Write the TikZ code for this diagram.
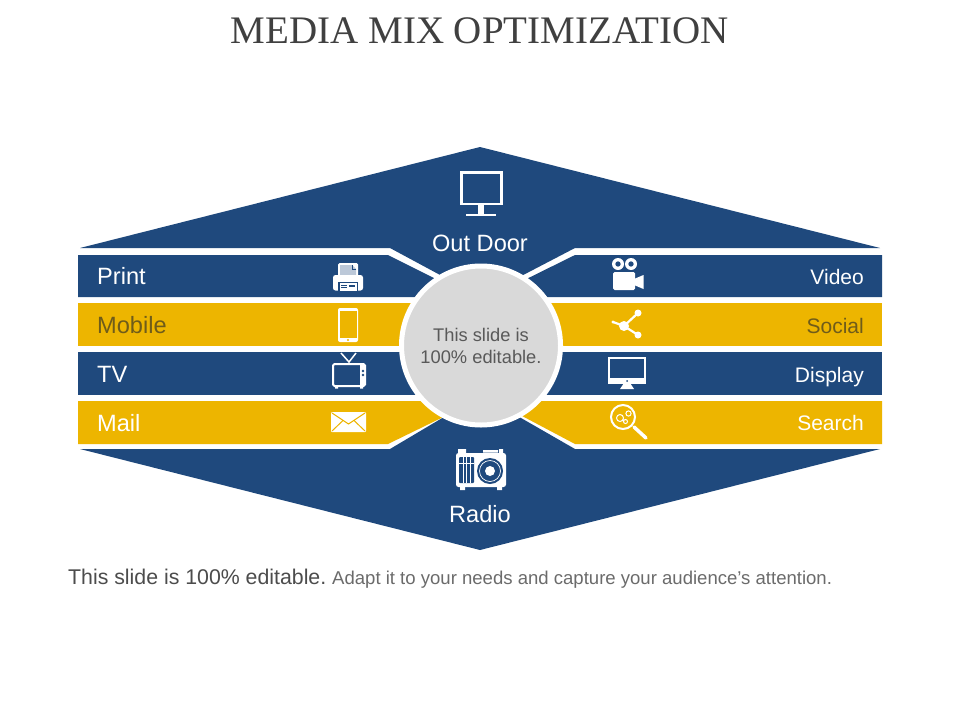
\documentclass[tikz,border=0pt]{standalone}
\usepackage{fontspec}
\setmainfont{Liberation Sans}
\newfontfamily\titlefont{Liberation Serif}
\definecolor{navy}{HTML}{1F497D}
\definecolor{gold}{HTML}{EDB500}
\definecolor{disc}{HTML}{D9D9D9}
\definecolor{darktxt}{HTML}{6F5C1A}
\tikzset{
	big/.style={inner sep=0pt, text=white, font=\fontsize{23.6}{28}\selectfont},
	small/.style={inner sep=0pt, text=white, font=\fontsize{21}{25}\selectfont},
	ink/.style={fill=white, draw=none},
	line/.style={draw=white, line width=1.6pt}
}
\begin{document}
\begin{tikzpicture}[x=1pt, y=-1pt]
	\useasboundingbox[fill=white] (0,0) rectangle (960,720);
	\node[inner sep=0pt, text=black!75, font=\titlefont\fontsize{39}{44}\selectfont] (title) at (480,31) {MEDIA MIX OPTIMIZATION};
	% hexagon halves
	\fill[navy] (80,248) -- (480,147) -- (880,248) -- (575,248) -- (481,297) -- (390,248) -- cycle;
	\fill[navy] (80,449) -- (480,550) -- (880,449) -- (575,449) -- (481,395) -- (390,449) -- cycle;
	% bands
	\fill[navy] (78,255) -- (388,255) -- (470,296) -- (470,297) -- (78,297) -- cycle;
	\fill[gold] (78,303) rectangle (470,346);
	\fill[navy] (78,352) rectangle (470,395);
	\fill[gold] (78,401) -- (470,401) -- (470,404) -- (388,444) -- (78,444) -- cycle;
	\fill[navy] (882,255) -- (575,255) -- (490,297) -- (882,297) -- cycle;
	\fill[gold] (490,303) rectangle (882,346);
	\fill[navy] (490,352) rectangle (882,395);
	\fill[gold] (882,401) -- (490,401) -- (490,399) -- (575,444) -- (882,444) -- cycle;
	% middle disc
	\fill[disc, draw=white, line width=5pt] (481,345.5) circle (79.5);
	\node[inner sep=0pt, align=center, text=black!65, font=\fontsize{18.3}{22.5}\selectfont] (hub) at (481,346) {This slide is\\100\% editable.};
	% labels
	\node[big] (outdoor) at (480,243) {Out Door};
	\node[big] (radio) at (480,514) {Radio};
	\node[big, anchor=base west] (print) at (97,284) {Print};
	\node[big, anchor=base west, text=darktxt] (mobile) at (97,333) {Mobile};
	\node[big, anchor=base west] (tv) at (97,382) {TV};
	\node[big, anchor=base west] (mail) at (97,431) {Mail};
	\node[small, anchor=base east] (video) at (864,284) {Video};
	\node[small, anchor=base east, text=darktxt] (social) at (864,333) {Social};
	\node[small, anchor=base east] (display) at (864,382) {Display};
	\node[small, anchor=base east] (search) at (864,430) {Search};
	\node[inner sep=0pt, anchor=base west, text=black!70, font=\fontsize{21.3}{25}\selectfont] (note) at (68,584) {This slide is 100\% editable.};
	\node[inner sep=0pt, anchor=base west, text=black!58, font=\fontsize{18.55}{22}\selectfont] (noterest) at (332,584) {Adapt it to your needs and capture your audience\symbol{39}s attention.};
	% out door monitor
	\draw[line, line width=2.6pt] (461.3,172.3) rectangle (501.7,204);
	\fill[white] (478,205) rectangle (484,214);
	\fill[white] (466,214) rectangle (496,216);
	% printer
	\fill[ink, rounded corners=1.5pt] (338,263) rectangle (358,281);
	\fill[navy!30] (340,265) -- (352,265) -- (356,269) -- (356,276) -- (340,276) -- cycle;
	\draw[navy, line width=0.5pt] (352,265) -- (352,269) -- (356,269);
	\fill[ink, rounded corners=2.5pt] (333,275) rectangle (363,290.5);
	\fill[navy] (338,281.5) rectangle (358,291);
	\fill[ink] (339.5,283) rectangle (356.5,291);
	\fill[navy] (349,284.5) rectangle (355,287);
	\draw[navy, line width=0.6pt] (341,285) -- (347,285) (341,287) -- (347,287);
	% phone
	\fill[ink, rounded corners=2pt] (338,308) rectangle (358,342);
	\fill[gold] (339.5,311) rectangle (356.5,338);
	\fill[gold] (348,340) circle (1.2);
	% tv
	\draw[white, line width=1.5pt] (341,353) -- (349,362) -- (356,353);
	\draw[line, line width=2pt, rounded corners=1.5pt] (333,364) rectangle (365,386);
	\fill[white] (360,364) rectangle (365,386);
	\fill[navy] (363,371) circle (1.3) (363,375) circle (1.3);
	\fill[white] (335,386) rectangle (338,388.5) (360,386) rectangle (363,388.5);
	% envelope
	\fill[ink, rounded corners=1pt] (331,412) rectangle (366,432);
	\draw[gold, line width=1pt] (332,413) -- (348.5,424) -- (365,413) (332,431) -- (343,420.5) (365,431) -- (354,420.5);
	% camera
	\fill[white, even odd rule] (618,264) circle (6) (618,264) circle (2.8) (631,264) circle (6) (631,264) circle (2.8);
	\fill[ink, rounded corners=1.5pt] (613,272) rectangle (635,290);
	\fill[white] (634,279) -- (643.5,275) -- (643.5,289) -- (634,285) -- cycle;
	% share
	\draw[white, line width=2.2pt] (613,322) -- (624,326) -- (638,313) (624,326) -- (638,335);
	\fill[white] (624,326) circle (5) (638,313) circle (3.5) (638,335) circle (3.5) (613,322) circle (1.6);
	% display
	\fill[ink] (608,357) rectangle (646,384);
	\fill[navy] (610,358.5) rectangle (644,378);
	\fill[navy] (627,381) circle (1);
	\fill[white] (624,383) -- (630,383) -- (634,389) -- (620,389) -- cycle;
	% magnifier
	\draw[white, line width=2pt] (623,417) circle (12);
	\draw[white, line width=3.5pt, line cap=round] (634,427) -- (646,438);
	\draw[white, line width=1pt] (620,418) circle (3.5) (628.5,413.5) circle (2.6) (625.5,421.5) circle (2);
	% radio
	\fill[ink, rounded corners=2.5pt] (456,453) rectangle (506,487);
	\fill[white] (458,449) rectangle (466,454) (483,450) rectangle (498,452.5) (499,449) rectangle (503,454) (460,487) rectangle (465,490) (497,487) rectangle (502,490);
	\fill[navy, rounded corners=1pt] (459,457) rectangle (474,483);
	\draw[white, line width=0.9pt] (463,457) -- (463,483) (466.5,457) -- (466.5,483) (470,457) -- (470,483) (459,463) -- (474,463);
	\fill[navy] (490,471) circle (13);
	\draw[white, line width=0.7pt] (490,471) circle (10.5);
	\fill[white] (490,471) circle (5);
\end{tikzpicture}
\end{document}
